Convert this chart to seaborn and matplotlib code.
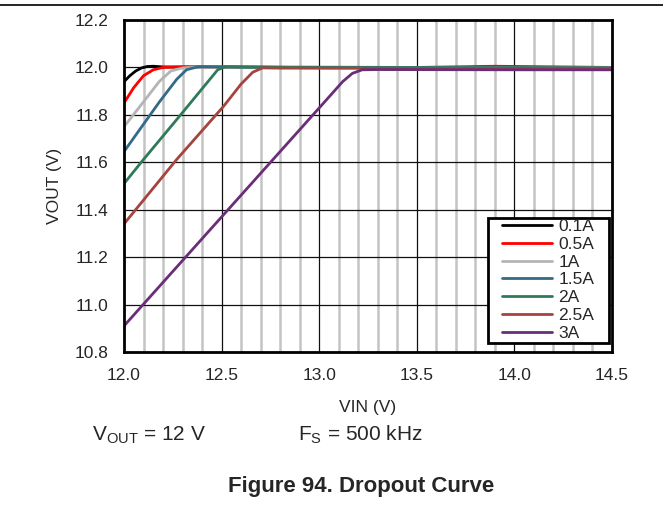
import matplotlib
matplotlib.use("Agg")
import matplotlib.pyplot as plt
import seaborn as sns
import pandas as pd
import numpy as np
from matplotlib.lines import Line2D
from matplotlib.patches import Rectangle

sns.set_style("white")
plt.rcParams['font.family'] = ['Liberation Sans', 'DejaVu Sans']

labels = ["0.1A", "0.5A", "1A", "1.5A", "2A", "2.5A", "3A"]
colors = ["#000000", "#ff0000", "#b4b4b4", "#336b87", "#2f7a58", "#a5433f", "#6a2d77"]

vin_01 = [12.0, 12.03, 12.06, 12.09, 12.12, 12.15, 12.2, 12.5, 13.0, 13.5, 14.0, 14.5]
vout_01 = [11.94, 11.965, 11.985, 11.998, 12.004, 12.005, 12.002, 12.0, 12.0, 12.0, 12.0, 12.0]
vin_05 = [12.0, 12.05, 12.1, 12.15, 12.2, 12.3, 12.6, 13.0, 13.5, 13.9, 14.5]
vout_05 = [11.85, 11.915, 11.965, 11.99, 12.0, 12.003, 12.002, 12.001, 12.0, 12.005, 12.0]
vin_1 = [12.0, 12.1, 12.18, 12.24, 12.3, 12.35, 12.6, 13.0, 13.5, 14.0, 14.5]
vout_1 = [11.75, 11.855, 11.94, 11.985, 11.998, 12.0, 12.0, 11.999, 11.999, 11.999, 11.999]
vin_15 = [12.0, 12.18, 12.27, 12.32, 12.38, 12.45, 12.8, 13.5, 14.5]
vout_15 = [11.645, 11.853, 11.95, 11.99, 12.003, 12.003, 12.0, 11.999, 11.998]
vin_2 = [12.0, 12.1, 12.29, 12.44, 12.48, 12.52, 12.6, 13.0, 13.5, 14.5]
vout_2 = [11.51, 11.612, 11.80, 11.95, 11.99, 12.003, 12.002, 11.999, 11.999, 11.998]
vin_25 = [12.0, 12.27, 12.51, 12.6, 12.66, 12.71, 12.8, 13.5, 14.5]
vout_25 = [11.34, 11.612, 11.836, 11.93, 11.98, 11.998, 11.997, 11.996, 11.995]
vin_3 = [12.0, 13.04, 13.12, 13.17, 13.22, 13.3, 14.0, 14.5]
vout_3 = [10.91, 11.866, 11.94, 11.975, 11.99, 11.991, 11.99, 11.99]

all_x = [vin_01, vin_05, vin_1, vin_15, vin_2, vin_25, vin_3]
all_y = [vout_01, vout_05, vout_1, vout_15, vout_2, vout_25, vout_3]

frames = []
for lab, xs, ys in zip(labels, all_x, all_y):
    frames.append(pd.DataFrame({"VIN": xs, "VOUT": ys, "Load": lab}))
df = pd.concat(frames, ignore_index=True)

fig = plt.figure(figsize=(6.63, 5.08), dpi=100)
ax = fig.add_axes([124/663, 1-352/508, (612-124)/663, (352-20)/508])

# grid
for v in np.arange(12.1, 14.5, 0.1):
    if abs(round(v * 2) - v * 2) < 1e-6:
        continue
    ax.axvline(v, color="#c4c4c4", lw=1.8, zorder=0)
for v in [12.5, 13.0, 13.5, 14.0]:
    ax.axvline(v, color="#101010", lw=0.9, zorder=0.5)
for v in np.arange(10.8, 12.21, 0.2):
    ax.axhline(v, color="#101010", lw=0.9, zorder=0.5)

sns.lineplot(data=df, x="VIN", y="VOUT", hue="Load", hue_order=labels,
             palette=colors, ax=ax, lw=2.0, legend=False, sort=False,
             estimator=None)

ax.set_xlim(12.0, 14.5)
ax.set_ylim(10.8, 12.2)
ax.set_xticks([12.0, 12.5, 13.0, 13.5, 14.0, 14.5])
ax.set_xticklabels(["12.0", "12.5", "13.0", "13.5", "14.0", "14.5"])
ax.set_yticks(np.round(np.arange(10.8, 12.21, 0.2), 1))
ax.set_yticklabels([f"{v:.1f}" for v in np.arange(10.8, 12.21, 0.2)])
ax.tick_params(axis="both", labelsize=12.5, length=0)
ax.tick_params(axis="x", pad=11.5)
ax.tick_params(axis="y", pad=11.5)
ax.set_xlabel("VIN (V)", fontsize=12.5, labelpad=12)
ax.set_ylabel("VOUT (V)", fontsize=12.5, labelpad=8.5)
for s in ax.spines.values():
    s.set_color("black")
    s.set_linewidth(2.0)

handles = [Line2D([0], [0], color=c, lw=2.0) for c in colors]
leg = ax.legend(handles, labels, loc="upper left",
                bbox_to_anchor=(502/663, 1-219/508), bbox_transform=fig.transFigure,
                fontsize=12.5, frameon=False, handlelength=2.9,
                handletextpad=0.35, labelspacing=0.15, borderpad=0.0,
                borderaxespad=0.0)
leg.set_zorder(6)

fig.canvas.draw()
bb = leg.get_window_extent(fig.canvas.get_renderer())
inv = ax.transAxes.inverted()
(ax0, ay0) = inv.transform((bb.x0 - 14, bb.y0 - 2))
(ax1, ay1) = inv.transform((bb.x1 + 15, bb.y1 + 1))
ax.add_patch(Rectangle((ax0, ay0), ax1 - ax0, ay1 - ay0, transform=ax.transAxes,
                       facecolor="white", edgecolor="black", lw=2.0, zorder=5,
                       clip_on=False))

# top page rule
fig.add_artist(Line2D([0, 1], [1-5/508, 1-5/508], color="black", lw=1.2,
                      transform=fig.transFigure))

fig.text(92/663, 1-440/508, r"V$_{\mathregular{OUT}}$ = 12 V", fontsize=15, va="baseline")
fig.text(298/663, 1-440/508, r"F$_{\mathregular{S}}$ = 500 kHz", fontsize=15, va="baseline")
fig.text(228/663, 1-492/508, "Figure 94. Dropout Curve", fontsize=16,
         fontweight="bold", ha="left", va="baseline")

fig.savefig("out.png", dpi=100)
